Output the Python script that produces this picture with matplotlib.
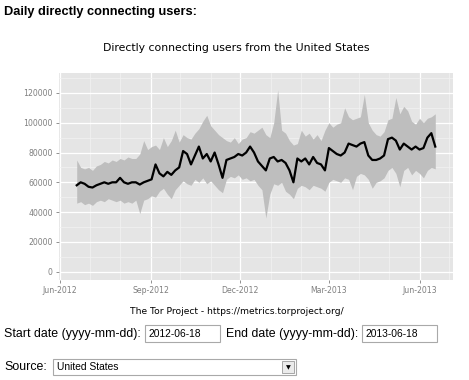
import numpy as np
import pandas as pd
import matplotlib
matplotlib.use("Agg")
import matplotlib.pyplot as plt
import matplotlib.dates as mdates
from matplotlib.patches import Rectangle
from matplotlib.ticker import MultipleLocator, FuncFormatter

# ---------------------------------------------------------------- data
# estimates, one sample every 4 days from 2012-06-18
dates = pd.date_range("2012-06-18", periods=92, freq="4D")

users = [58, 60, 59, 57, 56.5, 58, 59, 60, 59, 60, 60, 63, 60, 59, 60, 60,
         58.5, 60, 61, 62, 72, 66, 64, 67, 65, 68, 70, 81, 79, 72, 78, 84,
         76, 79, 74, 80, 72, 63, 75, 76, 77, 79, 78, 80, 84, 80, 74, 71,
         68, 76, 77, 74, 75, 73, 68, 60, 76, 74, 76, 72, 77, 73, 72, 68,
         83, 81, 79, 78, 80, 86, 85, 84, 86, 87, 78, 75, 75, 76, 78, 89,
         90, 88, 82, 86, 84, 82, 84, 82, 83, 90, 93, 84]

users_high = [75, 70, 69, 70, 68, 71, 72, 74, 73, 75, 74, 76, 75, 77, 76, 76,
              79, 88, 82, 84, 85, 82, 90, 84, 88, 95, 87, 92, 90, 89, 93, 96,
              101, 105, 98, 95, 92, 90, 88, 87, 90, 86, 89, 90, 94, 93, 95, 97,
              92, 90, 100, 122, 95, 93, 88, 85, 86, 95, 91, 93, 89, 92, 88, 95,
              100, 97, 99, 100, 110, 104, 102, 103, 104, 119, 100, 95, 92, 91,
              94, 102, 103, 117, 106, 111, 108, 101, 99, 103, 100, 103, 104, 106]

users_low = [46, 47, 45, 46, 44.5, 47, 48, 47, 49, 48, 47, 48, 46, 47, 46, 48,
             39, 48, 49, 51, 50, 54, 56, 52, 49, 55, 58, 61, 59, 58, 62, 60,
             63, 59, 61, 58, 55, 53, 62, 64, 63, 65, 62, 63, 61, 62, 58, 55,
             36, 52, 59, 58, 60, 54, 52, 49, 56, 58, 57, 55, 58, 57, 56, 54,
             60, 62, 61, 60, 63, 62, 55, 64, 66, 65, 62, 56, 60, 61, 63, 68,
             70, 66, 57, 68, 70, 65, 68, 66, 63, 68, 70, 69]

users = np.array(users) * 1000
users_high = np.array(users_high) * 1000
users_low = np.array(users_low) * 1000

title = "Directly connecting users from the United States"
caption = "The Tor Project - https://metrics.torproject.org/"
start_date = "2012-06-18"
end_date = "2013-06-18"
source = "United States"

# ---------------------------------------------------------------- figure
W, H = 469, 380
fig = plt.figure(figsize=(W / 100, H / 100), dpi=100)
fig.patch.set_facecolor("white")


def fx(px):
    return px / W


def fy(py):
    return 1 - py / H


ax = fig.add_axes([fx(59), fy(280), fx(453) - fx(59), fy(73) - fy(280)])
ax.set_facecolor("#E5E5E5")

ax.fill_between(dates, users_low, users_high, color="#BEBEBE", linewidth=0,
                zorder=2)
ax.plot(dates, users, color="black", linewidth=1.6, zorder=3)

ax.set_xlim(pd.Timestamp("2012-05-31"), pd.Timestamp("2013-07-05"))
ax.set_ylim(-5600, 133400)

ax.xaxis.set_major_locator(mdates.MonthLocator(bymonth=[3, 6, 9, 12]))
ax.xaxis.set_minor_locator(mdates.MonthLocator())
ax.xaxis.set_major_formatter(mdates.DateFormatter("%b-%Y"))
ax.yaxis.set_major_locator(MultipleLocator(20000))
ax.yaxis.set_minor_locator(MultipleLocator(10000))
ax.yaxis.set_major_formatter(FuncFormatter(lambda v, p: f"{int(v)}"))

ax.grid(which="major", color="white", linewidth=0.9, zorder=1)
ax.grid(which="minor", color="#F2F2F2", linewidth=0.5, zorder=1)
ax.set_axisbelow(True)
for s in ax.spines.values():
    s.set_visible(False)
ax.tick_params(which="major", length=2.5, width=0.6, color="#7F7F7F",
               labelcolor="#7F7F7F", labelsize=5.6, pad=2)
ax.tick_params(which="minor", length=0)

fig.text(fx(236), fy(48), title, ha="center", va="center", fontsize=7.8,
         family="DejaVu Sans", color="black")
fig.text(fx(237), fy(311), caption, ha="center", va="center", fontsize=6.6,
         family="DejaVu Sans", color="black")

# ---------------------------------------------------------------- page bits
fig.text(fx(4), fy(12), "Daily directly connecting users:", ha="left",
         va="center", fontsize=9.2, fontweight="bold",
         family="Liberation Sans")

form_font = dict(fontsize=8.9, family="Liberation Sans", va="center",
                 ha="left", color="black")
fig.text(fx(4), fy(334), "Start date (yyyy-mm-dd):", **form_font)
fig.text(fx(226), fy(334), "End date (yyyy-mm-dd):", **form_font)
fig.text(fx(4), fy(367), "Source:", **form_font)


def box(x0, y0, x1, y1, **kw):
    fig.patches.append(Rectangle((fx(x0), fy(y1)), fx(x1) - fx(x0),
                                 fy(y0) - fy(y1), transform=fig.transFigure,
                                 figure=fig, **kw))


box(145, 325, 220, 342, facecolor="white", edgecolor="#A9A9A9", linewidth=0.8)
box(362, 325, 437, 342, facecolor="white", edgecolor="#A9A9A9", linewidth=0.8)
box(53, 359, 296, 375, facecolor="white", edgecolor="#A9A9A9", linewidth=0.8)
box(282, 361, 294, 373, facecolor="#EBEBEB", edgecolor="#9A9A9A",
    linewidth=0.6)

val_font = dict(fontsize=7.4, family="Liberation Sans", va="center",
                ha="left", color="black")
fig.text(fx(148), fy(334), start_date, **val_font)
fig.text(fx(365), fy(334), end_date, **val_font)
fig.text(fx(57), fy(367), source, **val_font)
fig.text(fx(288), fy(367.5), "\u25BC", fontsize=4.5, family="DejaVu Sans",
         ha="center", va="center", color="black")

fig.savefig("out.png", dpi=100)
